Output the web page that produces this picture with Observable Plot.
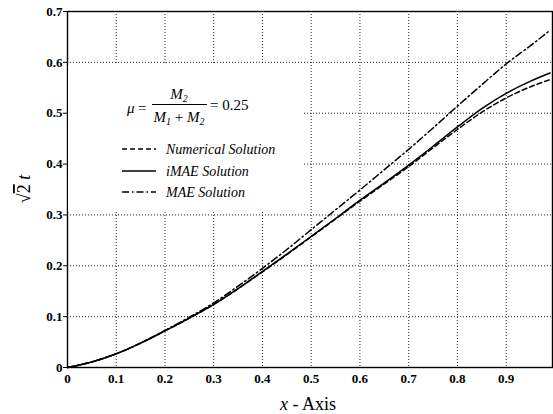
<!DOCTYPE html>
<html><head><meta charset="utf-8">
<script src="https://cdn.jsdelivr.net/npm/d3@7"></script>
<script src="https://cdn.jsdelivr.net/npm/@observablehq/plot@0.6"></script>
<style>body{margin:0;background:#fff}</style>
</head><body><div id="chart"></div>
<script>
const xValues   = [0, 0.05, 0.1, 0.15, 0.2, 0.25, 0.3, 0.35, 0.4, 0.45, 0.5, 0.55, 0.6, 0.65, 0.7, 0.75, 0.8, 0.85, 0.9, 0.95, 0.99];
const numerical = [0, 0.011, 0.027, 0.048, 0.072, 0.097, 0.124, 0.155, 0.188, 0.222, 0.257, 0.292, 0.327, 0.361, 0.395, 0.432, 0.468, 0.502, 0.530, 0.552, 0.566];
const imae      = [0, 0.011, 0.027, 0.048, 0.072, 0.097, 0.124, 0.155, 0.189, 0.223, 0.258, 0.293, 0.329, 0.363, 0.398, 0.435, 0.473, 0.509, 0.539, 0.563, 0.579];
const mae       = [0, 0.011, 0.027, 0.048, 0.073, 0.099, 0.127, 0.160, 0.195, 0.232, 0.271, 0.310, 0.349, 0.389, 0.429, 0.471, 0.514, 0.556, 0.597, 0.633, 0.663];
const xTicks = [0, 0.1, 0.2, 0.3, 0.4, 0.5, 0.6, 0.7, 0.8, 0.9];
const yTicks = [0, 0.1, 0.2, 0.3, 0.4, 0.5, 0.6, 0.7];
const seriesNames = ["Numerical Solution", "iMAE Solution", "MAE Solution"];
const seriesValues = [numerical, imae, mae];
const muValue = "0.25";

const FONT = "Liberation Serif";
const dashes = ["5,3", null, "7,3,1.5,3"];
const rows = seriesNames.flatMap((s, k) => xValues.map((x, i) => ({series: s, x, y: seriesValues[k][i]})));
const fmt = d => d === 0 ? "0" : d3.format(".1f")(d);
const gridStyle = {stroke: "black", strokeOpacity: 0.85, strokeDasharray: "1,2", strokeWidth: 1};

const chart = Plot.plot({
  width: 553, height: 414,
  marginLeft: 67, marginRight: 1, marginTop: 11, marginBottom: 47,
  style: {fontFamily: FONT, fontSize: "13px", color: "black", background: "white"},
  x: {domain: [0, 0.995]},
  y: {domain: [0, 0.7]},
  marks: [
    Plot.gridX(xTicks, gridStyle),
    Plot.gridY(yTicks, gridStyle),
    Plot.axisX(xTicks, {tickSize: 0, tickPadding: 6, tickFormat: fmt, label: null, fontSize: 13}),
    Plot.axisY(yTicks, {tickSize: 4, tickPadding: 1, tickFormat: fmt, label: null, fontSize: 13}),
    ...seriesNames.map((s, k) => Plot.line(rows.filter(r => r.series === s), {
      x: "x", y: "y", stroke: "black", strokeWidth: 1.5,
      strokeDasharray: dashes[k] || undefined, curve: "monotone-x"
    })),
    Plot.frame({stroke: "black", strokeWidth: 1.4})
  ]
});
document.getElementById("chart").appendChild(chart);

const svg = d3.select(chart);
const g = svg.append("g").attr("fill", "black").attr("text-anchor", "start");
// legend box hides grid
g.append("rect").attr("x", 68).attr("y", 65).attr("width", 236).attr("height", 146).attr("fill", "white");
// formula
const fs = 15;
g.append("text").attr("x", 127).attr("y", 113).attr("font-size", fs).attr("font-style", "italic").text("μ");
g.append("text").attr("x", 138).attr("y", 113).attr("font-size", fs).text("=");
const num = g.append("text").attr("x", 179).attr("y", 99).attr("font-size", fs).attr("text-anchor", "middle").attr("font-style", "italic");
num.append("tspan").text("M");
num.append("tspan").attr("font-size", 10).attr("dy", 3).text("2");
g.append("line").attr("x1", 152).attr("x2", 207).attr("y1", 104.5).attr("y2", 104.5).attr("stroke", "black").attr("stroke-width", 1);
const den = g.append("text").attr("x", 179).attr("y", 122).attr("font-size", fs).attr("text-anchor", "middle").attr("font-style", "italic");
den.append("tspan").text("M");
den.append("tspan").attr("font-size", 10).attr("dy", 3).text("1");
den.append("tspan").attr("dy", -3).attr("font-style", "normal").text(" + ");
den.append("tspan").text("M");
den.append("tspan").attr("font-size", 10).attr("dy", 3).text("2");
g.append("text").attr("x", 210).attr("y", 110).attr("font-size", fs).text("= " + muValue);
// legend entries
const rowsY = [149, 171, 192];
seriesNames.forEach((s, k) => {
  const l = g.append("line").attr("x1", 122).attr("x2", 156).attr("y1", rowsY[k]).attr("y2", rowsY[k])
    .attr("stroke", "black").attr("stroke-width", 1.4);
  if (dashes[k]) l.attr("stroke-dasharray", dashes[k]);
  g.append("text").attr("x", 166).attr("y", rowsY[k]).attr("dy", "0.35em").attr("font-size", 14)
    .attr("font-style", "italic").text(s);
});
// axis titles
const xt = g.append("text").attr("x", 308).attr("y", 410).attr("font-size", 18).attr("text-anchor", "middle");
xt.append("tspan").attr("font-style", "italic").text("x");
xt.append("tspan").text(" - Axis");
const yt = g.append("text").attr("transform", "translate(30,189) rotate(-90)").attr("font-size", 18).attr("text-anchor", "middle");
yt.append("tspan").text("√");
yt.append("tspan").attr("text-decoration", "overline").text("2");
yt.append("tspan").attr("font-style", "italic").text(" t");
// force serif font on every text
svg.selectAll("text, tspan").attr("font-family", FONT).style("font-family", FONT);
svg.selectAll("g[aria-label='x-axis tick label'] text, g[aria-label='y-axis tick label'] text").attr("font-weight", "bold");
</script>
</body></html>
